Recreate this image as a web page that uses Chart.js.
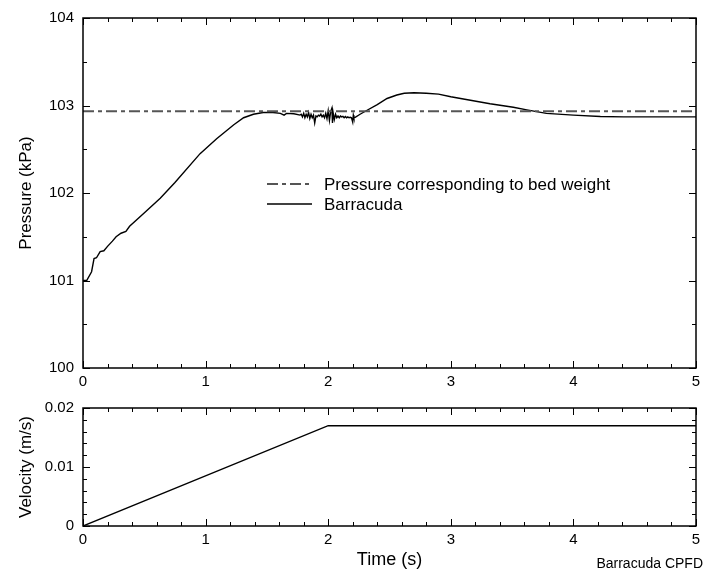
<!DOCTYPE html>
<html>
<head>
<meta charset="utf-8">
<script src="https://cdn.jsdelivr.net/npm/chart.js@4.4.1/dist/chart.umd.min.js"></script>
<style>
  body { margin: 0; background: #fff; }
  #wrap { position: relative; width: 706px; height: 575px; overflow: hidden; }
  canvas { position: absolute; left: 0; }
  #pressureChart { top: 0; }
  #velocityChart { top: 390px; }
  #credit { position: absolute; right: 3px; top: 556px; font: 14px "Liberation Sans", Arial, sans-serif; line-height: 14px; color: #000; }
</style>
</head>
<body>
<div id="wrap">
  <canvas id="pressureChart" width="706" height="390"></canvas>
  <canvas id="velocityChart" width="706" height="185"></canvas>
  <div id="credit">Barracuda CPFD</div>
</div>
<script>
// 数据
const timeS = [
    0.00, 0.03, 0.07, 0.09, 0.11, 0.14, 0.17, 0.20, 0.24, 0.27, 0.31, 0.35, 0.38, 0.49, 0.63, 0.75,
    0.955, 1.09, 1.23, 1.31, 1.39, 1.47, 1.55, 1.61, 1.64, 1.66, 1.72, 1.77,
    1.78, 1.79, 1.80, 1.81, 1.82, 1.83, 1.84, 1.85, 1.86, 1.87, 1.88, 1.89, 1.90, 1.91, 1.92, 1.93,
    1.94, 1.95, 1.96, 1.97, 1.98, 1.99, 2.00, 2.01, 2.02, 2.03, 2.035, 2.04, 2.05, 2.06, 2.07, 2.08,
    2.09, 2.10, 2.11, 2.12, 2.13, 2.14, 2.15, 2.16, 2.17, 2.18, 2.19, 2.20, 2.205, 2.21, 2.22,
    2.26, 2.31, 2.40, 2.48, 2.56, 2.62, 2.70, 2.80, 2.90, 3.00, 3.16, 3.32, 3.51, 3.62, 3.78,
    4.00, 4.22, 4.41, 4.82, 5.00
];
const pressureKPa = [
    101.00, 101.00, 101.10, 101.25, 101.26, 101.33, 101.34, 101.39, 101.45, 101.50, 101.54, 101.56, 101.62, 101.76, 101.94, 102.12,
    102.45, 102.62, 102.78, 102.86, 102.90, 102.92, 102.92, 102.91, 102.89, 102.91, 102.905, 102.89,
    102.90, 102.87, 102.91, 102.86, 102.90, 102.87, 102.92, 102.85, 102.90, 102.86, 102.89, 102.80, 102.88, 102.87, 102.89, 102.88,
    102.90, 102.87, 102.89, 102.86, 102.91, 102.85, 102.94, 102.83, 102.93, 102.97, 102.80, 102.92, 102.84, 102.90, 102.86, 102.88,
    102.86, 102.88, 102.87, 102.875, 102.86, 102.875, 102.86, 102.87, 102.86, 102.865, 102.86, 102.81, 102.89, 102.86, 102.865,
    102.90, 102.94, 103.01, 103.08, 103.12, 103.14, 103.145, 103.14, 103.13, 103.10, 103.06, 103.02, 102.98, 102.95, 102.91,
    102.89, 102.875, 102.87, 102.87, 102.87
];
const bedWeightTime = [0, 5];
const bedWeightKPa = [102.935, 102.935];
const velocityTime = [0, 2, 5];
const velocityMS = [0, 0.017, 0.017];

const pressureTicks = [100, 101, 102, 103, 104];
const velocityTicks = [0, 0.01, 0.02];
const timeTicks = [0, 1, 2, 3, 4, 5];

const FONT = '"Liberation Sans", Arial, Helvetica, sans-serif';

function toPoints(xs, ys) {
    return xs.map((x, i) => ({ x: x, y: ys[i] }));
}

// 边框和朝内的刻度线
const frameTicks = {
    id: 'frameTicks',
    afterDraw(chart, args, opts) {
        const { ctx, chartArea: a, scales } = chart;
        ctx.save();
        ctx.strokeStyle = '#000';
        ctx.lineWidth = 1;
        const xs = scales.x, ys = scales.y;
        const xN = Math.round((xs.max - xs.min) / opts.xMinor);
        for (let i = 0; i <= xN; i++) {
            const v = xs.min + i * opts.xMinor;
            const major = Math.abs(v / opts.xMajor - Math.round(v / opts.xMajor)) < 1e-6;
            const len = major ? 7 : 4;
            const px = Math.round(xs.getPixelForValue(v)) + 0.5;
            ctx.beginPath();
            ctx.moveTo(px, a.bottom); ctx.lineTo(px, a.bottom - len);
            ctx.moveTo(px, a.top); ctx.lineTo(px, a.top + len);
            ctx.stroke();
        }
        const yN = Math.round((ys.max - ys.min) / opts.yMinor);
        for (let i = 0; i <= yN; i++) {
            const v = ys.min + i * opts.yMinor;
            const r = (v - ys.min) / opts.yMajor;
            const major = Math.abs(r - Math.round(r)) < 1e-6;
            const len = major ? 7 : 4;
            const py = Math.round(ys.getPixelForValue(v)) + 0.5;
            ctx.beginPath();
            ctx.moveTo(a.left, py); ctx.lineTo(a.left + len, py);
            ctx.moveTo(a.right, py); ctx.lineTo(a.right - len, py);
            ctx.stroke();
        }
        ctx.lineWidth = 1.5;
        ctx.strokeRect(a.left, a.top, a.right - a.left, a.bottom - a.top);
        ctx.restore();
    }
};

// 图内图例
const insideLegend = {
    id: 'insideLegend',
    afterDatasetsDraw(chart) {
        const { ctx, chartArea: a } = chart;
        const x0 = a.left + 184, x1 = a.left + 229, tx = a.left + 241;
        ctx.save();
        ctx.font = '17px ' + FONT;
        ctx.textBaseline = 'middle';
        ctx.fillStyle = '#000';
        chart.data.datasets.forEach((ds, i) => {
            const y = a.top + 166 + i * 20;
            ctx.beginPath();
            ctx.setLineDash(ds.borderDash || []);
            ctx.strokeStyle = ds.borderColor;
            ctx.lineWidth = ds.borderWidth;
            ctx.moveTo(x0, y); ctx.lineTo(x1, y);
            ctx.stroke();
            ctx.fillText(ds.label, tx, y + 1);
        });
        ctx.restore();
    }
};

function timeAxis(showTitle) {
    return {
        type: 'linear',
        min: 0, max: 5,
        afterBuildTicks: s => { s.ticks = timeTicks.map(v => ({ value: v })); },
        afterFit: s => { s.height = showTitle ? 49 : 22; },
        grid: { display: false, drawTicks: false },
        border: { display: false },
        ticks: { color: '#000', font: { family: FONT, size: 15 }, padding: 5, maxRotation: 0 },
        title: {
            display: showTitle, text: 'Time (s)', color: '#000',
            font: { family: FONT, size: 18 }, padding: { top: 0, bottom: 4 }
        }
    };
}

function valueAxis(min, max, tickList, title) {
    return {
        type: 'linear',
        min: min, max: max,
        afterBuildTicks: s => { s.ticks = tickList.map(v => ({ value: v })); },
        afterFit: s => { s.width = 83; },
        grid: { display: false, drawTicks: false },
        border: { display: false },
        ticks: { color: '#000', font: { family: FONT, size: 15 }, padding: 9 },
        title: {
            display: true, text: title, color: '#000',
            font: { family: FONT, size: 17 }, padding: { top: 16, bottom: 0 }
        }
    };
}

document.addEventListener('DOMContentLoaded', function() {
    // 压力图
    const pressureCtx = document.getElementById('pressureChart').getContext('2d');
    new Chart(pressureCtx, {
        type: 'scatter',
        data: {
            datasets: [{
                label: 'Pressure corresponding to bed weight',
                data: toPoints(bedWeightTime, bedWeightKPa),
                showLine: true,
                borderColor: '#555',
                borderWidth: 2,
                borderDash: [11, 4, 4, 4],
                pointRadius: 0
            }, {
                label: 'Barracuda',
                data: toPoints(timeS, pressureKPa),
                showLine: true,
                borderColor: '#000',
                borderWidth: 1.4,
                pointRadius: 0,
                tension: 0
            }]
        },
        options: {
            responsive: false,
            animation: false,
            layout: { padding: { top: 15, right: 10, left: 0, bottom: 0 } },
            plugins: {
                legend: { display: false },
                tooltip: { enabled: false },
                frameTicks: { xMajor: 1, xMinor: 0.2, yMajor: 1, yMinor: 0.5 }
            },
            scales: {
                x: timeAxis(false),
                y: valueAxis(100, 104, pressureTicks, 'Pressure (kPa)')
            }
        },
        plugins: [frameTicks, insideLegend]
    });

    // 速度图
    const velocityCtx = document.getElementById('velocityChart').getContext('2d');
    new Chart(velocityCtx, {
        type: 'scatter',
        data: {
            datasets: [{
                label: 'Velocity',
                data: toPoints(velocityTime, velocityMS),
                showLine: true,
                borderColor: '#000',
                borderWidth: 1.4,
                pointRadius: 0
            }]
        },
        options: {
            responsive: false,
            animation: false,
            layout: { padding: { top: 8, right: 10, left: 0, bottom: 0 } },
            plugins: {
                legend: { display: false },
                tooltip: { enabled: false },
                frameTicks: { xMajor: 1, xMinor: 0.2, yMajor: 0.01, yMinor: 0.002 }
            },
            scales: {
                x: timeAxis(true),
                y: valueAxis(0, 0.02, velocityTicks, 'Velocity (m/s)')
            }
        },
        plugins: [frameTicks]
    });
});
</script>
</body>
</html>
